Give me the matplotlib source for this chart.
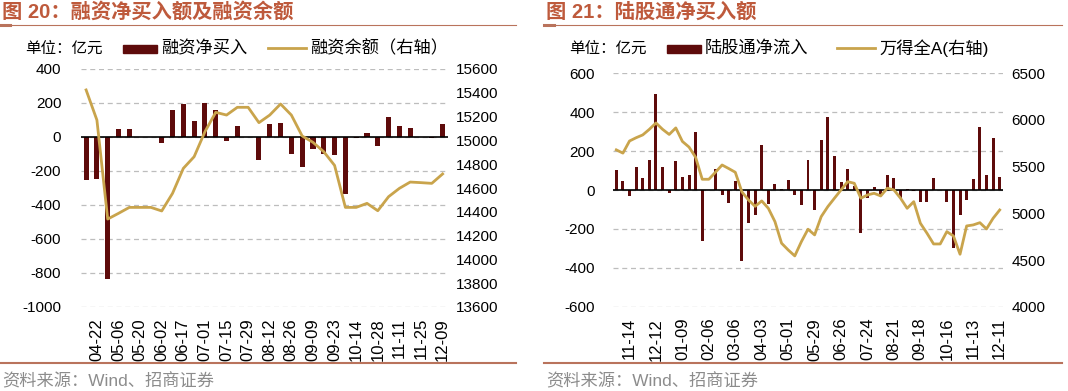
import numpy as np
import matplotlib
matplotlib.use('Agg')
import matplotlib.pyplot as plt
from matplotlib.lines import Line2D
from matplotlib.patches import Rectangle

plt.rcParams['font.family'] = ['Liberation Sans', 'Noto Sans CJK SC']
plt.rcParams['axes.unicode_minus'] = False

BAR_COLOR = '#5E0B0B'
LINE_COLOR = '#C9A44C'
TITLE_COLOR = '#BE5A3C'
RULE_COLOR = '#B9735C'
GRID_COLOR = '#BDBDBD'

# ---- Figure 20: margin financing net buy (bars) and balance (line, right axis)
fin_net_buy = [-251, -245, -833, 49, 49, 0, 0, -33, 161, 196, 96, 202, 161, -24,
               63, 0, -133, 76, 84, -102, -176, -68, -98, -108, -333, -3, 25, -55,
               120, 67, 51, -2, -5, 76]
fin_balance = [15424, 15171, 14339, 14387, 14437, 14437, 14437, 14407, 14555, 14765,
               14863, 15073, 15236, 15213, 15278, 15278, 15149, 15213, 15306, 15213,
               15037, 14984, 14905, 14790, 14437, 14437, 14471, 14409, 14527, 14597,
               14650, 14645, 14639, 14718]
fin_dates = ['04-22', '05-06', '05-20', '06-02', '06-17', '07-01', '07-15', '07-29',
             '08-12', '08-26', '09-09', '09-23', '10-14', '10-28', '11-11', '11-25', '12-09']
fin_left_ticks = [400, 200, 0, -200, -400, -600, -800, -1000]
fin_right_ticks = [15600, 15400, 15200, 15000, 14800, 14600, 14400, 14200, 14000, 13800, 13600]

# ---- Figure 21: northbound net inflow (bars) and Wind All A (line, right axis)
nb_inflow = [105, 48, -29, 116, 62, 156, 494, 118, -15, 150, 67, 79, 297, -263, 0,
             109, -27, -67, 44, -366, -169, -130, 232, -70, 32, 7, 53, -27, -77, 156,
             -101, 258, 373, 176, 43, 108, 22, -220, -41, 14, -24, 79, 62, -41, 7, -5,
             -63, -63, 62, 0, -63, -297, -130, -51, 56, 326, 77, 268, 68]
wind_all_a = [5680, 5645, 5775, 5810, 5840, 5900, 5968, 5900, 5845, 5915, 5770, 5710,
              5600, 5365, 5365, 5440, 5518, 5480, 5440, 5230, 5143, 5075, 5133, 5054,
              4911, 4680, 4608, 4544, 4697, 4830, 4769, 4965, 5072, 5162, 5251, 5339,
              5322, 5162, 5197, 5215, 5186, 5269, 5251, 5162, 5054, 5125, 4894, 4787,
              4672, 4672, 4804, 4758, 4562, 4865, 4876, 4900, 4833, 4947, 5036]
nb_dates = ['11-14', '12-12', '01-09', '02-06', '03-06', '04-03', '05-01', '05-29',
            '06-26', '07-24', '08-21', '09-18', '10-16', '11-13', '12-11']
nb_left_ticks = [600, 400, 200, 0, -200, -400, -600]
nb_right_ticks = [6500, 6000, 5500, 5000, 4500, 4000]

W, H = 1068, 391
fig = plt.figure(figsize=(W / 100, H / 100), dpi=100)


def fx(px):
    return px / W


def fy(py):
    return 1 - py / H


def draw_panel(rect, bars, line, dates, tick_start, tick_step, lticks, rticks,
               bar_width, lpad):
    ax = fig.add_axes(rect)
    x = np.arange(len(bars))
    ax.bar(x, bars, width=bar_width, color=BAR_COLOR, zorder=2)
    ax.axhline(0, color='black', lw=1.2, zorder=3)
    ax.set_xlim(-0.5, len(bars) - 0.5)
    ax.set_ylim(min(lticks), max(lticks))
    ax.set_yticks(lticks)
    ax.set_yticklabels([str(v) for v in lticks])
    ax.yaxis.grid(True, color=GRID_COLOR, ls=(0, (4, 3)), lw=0.9)
    ax.set_axisbelow(True)
    ax.set_xticks(np.arange(tick_start, len(bars), tick_step))
    ax.set_xticklabels(dates, rotation=90)
    ax.tick_params(axis='x', length=0, labelsize=12, pad=8)
    ax.tick_params(axis='y', length=0, labelsize=11, pad=lpad)
    for s in ax.spines.values():
        s.set_visible(False)

    ax2 = ax.twinx()
    ax2.plot(x, line, color=LINE_COLOR, lw=2.0, zorder=4)
    ax2.set_ylim(min(rticks), max(rticks))
    ax2.set_yticks(rticks)
    ax2.set_yticklabels([str(v) for v in rticks])
    ax2.tick_params(axis='y', length=0, labelsize=11, pad=6)
    for s in ax2.spines.values():
        s.set_visible(False)
    return ax, ax2


draw_panel([fx(80.7), fy(307), fx(448) - fx(80.7), fy(69) - fy(307)],
           fin_net_buy, fin_balance, fin_dates, 1, 2,
           fin_left_ticks, fin_right_ticks, 0.47, 14)
draw_panel([fx(613), fy(306.7), fx(1003) - fx(613), fy(73.3) - fy(306.7)],
           nb_inflow, wind_all_a, nb_dates, 2, 4,
           nb_left_ticks, nb_right_ticks, 0.45, 13)


def header(x0, x1, title, unit_x, box_x, bar_label, line_x, line_label):
    fig.text(fx(x0 + 2), fy(12), title, color=TITLE_COLOR, fontsize=14.6,
             fontweight='bold', va='center', ha='left')
    fig.add_artist(Line2D([fx(x0), fx(x1)], [fy(25), fy(25)], color=RULE_COLOR, lw=0.8))
    fig.add_artist(Line2D([fx(x0), fx(x0 + 10)], [fy(25), fy(25)], color=RULE_COLOR, lw=2.2))
    fig.add_artist(Line2D([fx(x0), fx(x1)], [fy(363), fy(363)], color=RULE_COLOR, lw=1.5))
    fig.text(fx(unit_x), fy(48), '单位：亿元', fontsize=11.2, va='center', ha='left')
    fig.add_artist(Rectangle((fx(box_x), fy(52.5)), fx(34), fy(45) - fy(52.5),
                             color=BAR_COLOR, transform=fig.transFigure))
    fig.text(fx(box_x + 38), fy(48), bar_label, fontsize=12.4, va='center', ha='left')
    fig.add_artist(Line2D([fx(line_x), fx(line_x + 38)], [fy(48), fy(48)],
                          color=LINE_COLOR, lw=2.0))
    fig.text(fx(line_x + 42), fy(48), line_label, fontsize=12.4, va='center', ha='left')
    fig.text(fx(x0 + 2), fy(381), '资料来源：Wind、招商证券', color='#8C8C8C',
             fontsize=12.4, va='center', ha='left')


header(0, 516, '图 20：融资净买入额及融资余额', 25, 123, '融资净买入', 268, '融资余额（右轴）')
header(544, 1062, '图 21：陆股通净买入额', 569, 667, '陆股通净流入', 837, '万得全A(右轴)')

fig.savefig('out.png', dpi=100)
